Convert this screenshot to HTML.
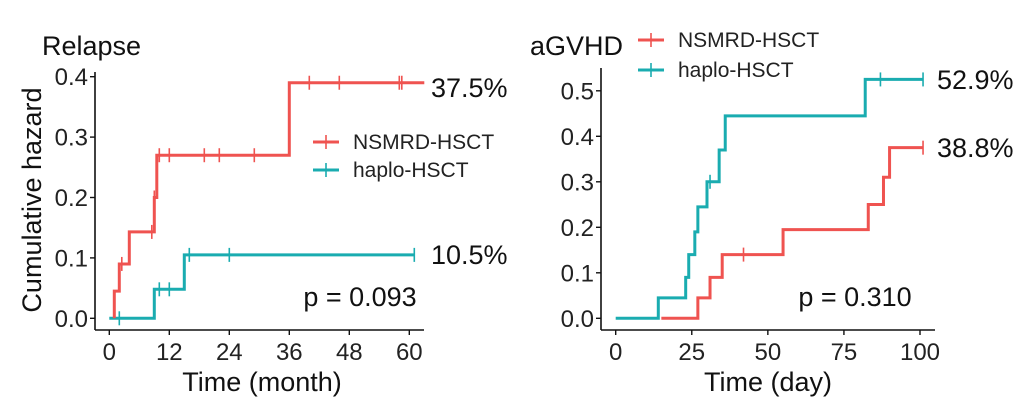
<!DOCTYPE html>
<html><head><meta charset="utf-8"><style>
html,body{margin:0;padding:0;background:#fff;}
svg{display:block;font-family:"Liberation Sans",sans-serif;}
</style></head><body>
<svg id="chart" width="1024" height="413" viewBox="0 0 1024 413"></svg>
<script>
// ---- Data: Relapse panel (months) ----
const relNsmrdT = [1, 1, 2, 4, 9, 9.5, 36, 63];
const relNsmrdV = [0, 0.045, 0.09, 0.143, 0.2, 0.27, 0.39, 0.39];
const relNsmrdCensT = [2.5, 8.5, 9, 10, 12, 19, 22, 29, 40, 46, 58, 58.5];
const relHaploT = [0, 9, 15, 61];
const relHaploV = [0, 0.048, 0.105, 0.105];
const relHaploCensT = [2, 10, 12, 16, 24, 61];
const relXTicks = [0, 12, 24, 36, 48, 60];
const relYTicks = [0, 0.1, 0.2, 0.3, 0.4];
// ---- Data: aGVHD panel (days) ----
const gvNsmrdT = [15, 27, 31, 35, 55, 83, 88, 90, 101];
const gvNsmrdV = [0, 0.045, 0.09, 0.14, 0.195, 0.25, 0.31, 0.375, 0.375];
const gvNsmrdCensT = [42, 101];
const gvHaploT = [0, 14, 23, 24, 26, 27, 30, 34, 36, 82, 101];
const gvHaploV = [0, 0.045, 0.09, 0.14, 0.19, 0.245, 0.3, 0.37, 0.445, 0.525, 0.525];
const gvHaploCensT = [31, 87, 101];
const gvXTicks = [0, 25, 50, 75, 100];
const gvYTicks = [0, 0.1, 0.2, 0.3, 0.4, 0.5];

const RED = "#ef5350", TEAL = "#1aacb0";
const svg = document.getElementById('chart');
const NS = "http://www.w3.org/2000/svg";
function mk(tag, attrs, parent){const e=document.createElementNS(NS,tag);for(const k in attrs)e.setAttribute(k,attrs[k]);(parent||svg).appendChild(e);return e;}

function stepVal(T,V,t){let v=V[0];for(let i=0;i<T.length;i++){if(T[i]<=t)v=V[i];}return v;}

function panel(o){
  const g = mk('g',{});
  
  
  const sx = t => o.x0 + (t - o.xmin) * o.kx;
  const sy = v => o.y0 - v * o.ky;
  const ya = mk('line',{x1:o.axX,y1:o.axTop,x2:o.axX,y2:o.axY,stroke:'#111','stroke-width':1.6},g);
   
  const xa = mk('line',{x1:o.axX,y1:o.axY,x2:o.axRight,y2:o.axY,stroke:'#111','stroke-width':1.6},g);
   
  o.yTicks.forEach(v=>{
    mk('line',{x1:o.axX-5,y1:sy(v),x2:o.axX,y2:sy(v),stroke:'#111','stroke-width':1.4},g);
    const t = mk('text',{x:o.axX-7,y:sy(v)+8.5,'text-anchor':'end','font-size':24,fill:'#222'},g);
    t.textContent = v.toFixed(1);
     
  });
  o.xTicks.forEach(v=>{
    mk('line',{x1:sx(v),y1:o.axY,x2:sx(v),y2:o.axY+5,stroke:'#111','stroke-width':1.4},g);
    const t = mk('text',{x:sx(v),y:o.axY+30,'text-anchor':'middle','font-size':24,fill:'#222'},g);
    t.textContent = v;
     
  });
  o.series.forEach(s=>{
    let d = `M${sx(s.T[0])},${sy(s.V[0])}`;
    for(let i=1;i<s.T.length;i++){ d += ` H${sx(s.T[i])} V${sy(s.V[i])}`; }
    const p = mk('path',{d,fill:'none',stroke:s.c,'stroke-width':3},g);
     
    s.C.forEach(t=>{
      const y = sy(stepVal(s.T,s.V,t));
      const m = mk('line',{x1:sx(t),y1:y-7,x2:sx(t),y2:y+7,stroke:s.c,'stroke-width':1.6},g);
       
    });
  });
  return {sx,sy};
}

panel({name:'relapse-panel',x0:109.3,xmin:0,kx:5,y0:318.3,ky:604,axX:95,axTop:72,axY:330,axRight:424,
  xTicks:relXTicks,yTicks:relYTicks,series:[
  {name:'haplo-hsct',T:relHaploT,V:relHaploV,C:relHaploCensT,c:TEAL},
  {name:'nsmrd-hsct',T:relNsmrdT,V:relNsmrdV,C:relNsmrdCensT,c:RED}]});
panel({name:'agvhd-panel',x0:615.7,xmin:0,kx:3.043,y0:318.3,ky:455,axX:601,axTop:68,axY:330,axRight:935,
  xTicks:gvXTicks,yTicks:gvYTicks,series:[
  {name:'nsmrd-hsct',T:gvNsmrdT,V:gvNsmrdV,C:gvNsmrdCensT,c:RED},
  {name:'haplo-hsct',T:gvHaploT,V:gvHaploV,C:gvHaploCensT,c:TEAL}]});

function txt(x,y,s,size,name,anchor,extra){const t=mk('text',Object.assign({x,y,'font-size':size,fill:'#111','text-anchor':anchor||'start'},extra||{}));t.textContent=s;
   return t;}
txt(42,55,'Relapse',27,'relapse-title');
txt(530,55,'aGVHD',27,'agvhd-title');
txt(431,97,'37.5%',27,'nsmrd-relapse-end-label');
txt(431,264,'10.5%',27,'haplo-relapse-end-label');
txt(937,89,'52.9%',27,'haplo-agvhd-end-label');
txt(937,157,'38.8%',27,'nsmrd-agvhd-end-label');
txt(360,306,'p = 0.093',27,'relapse-p-value','middle');
txt(855,306,'p = 0.310',27,'agvhd-p-value','middle');
txt(262,391,'Time (month)',27,'relapse-x-axis-title','middle');
txt(768,391,'Time (day)',27,'agvhd-x-axis-title','middle');
txt(0,0,'Cumulative hazard',27,'y-axis-title','middle',{transform:'translate(41,200) rotate(-90)'});

function legend(x,y,c,label,name){
  const g=mk('g',{});
   
  mk('line',{x1:x,y1:y,x2:x+26,y2:y,stroke:c,'stroke-width':3},g);
  mk('line',{x1:x+13,y1:y-7,x2:x+13,y2:y+7,stroke:c,'stroke-width':1.6},g);
  const t=mk('text',{x:x+40,y:y+7,'font-size':21,fill:'#222'},g); t.textContent=label;
}
legend(313,142,RED,'NSMRD-HSCT','legend-entry-nsmrd-relapse');
legend(313,170,TEAL,'haplo-HSCT','legend-entry-haplo-relapse');
legend(638,40,RED,'NSMRD-HSCT','legend-entry-nsmrd-agvhd');
legend(638,70,TEAL,'haplo-HSCT','legend-entry-haplo-agvhd');
</script>
</body></html>
